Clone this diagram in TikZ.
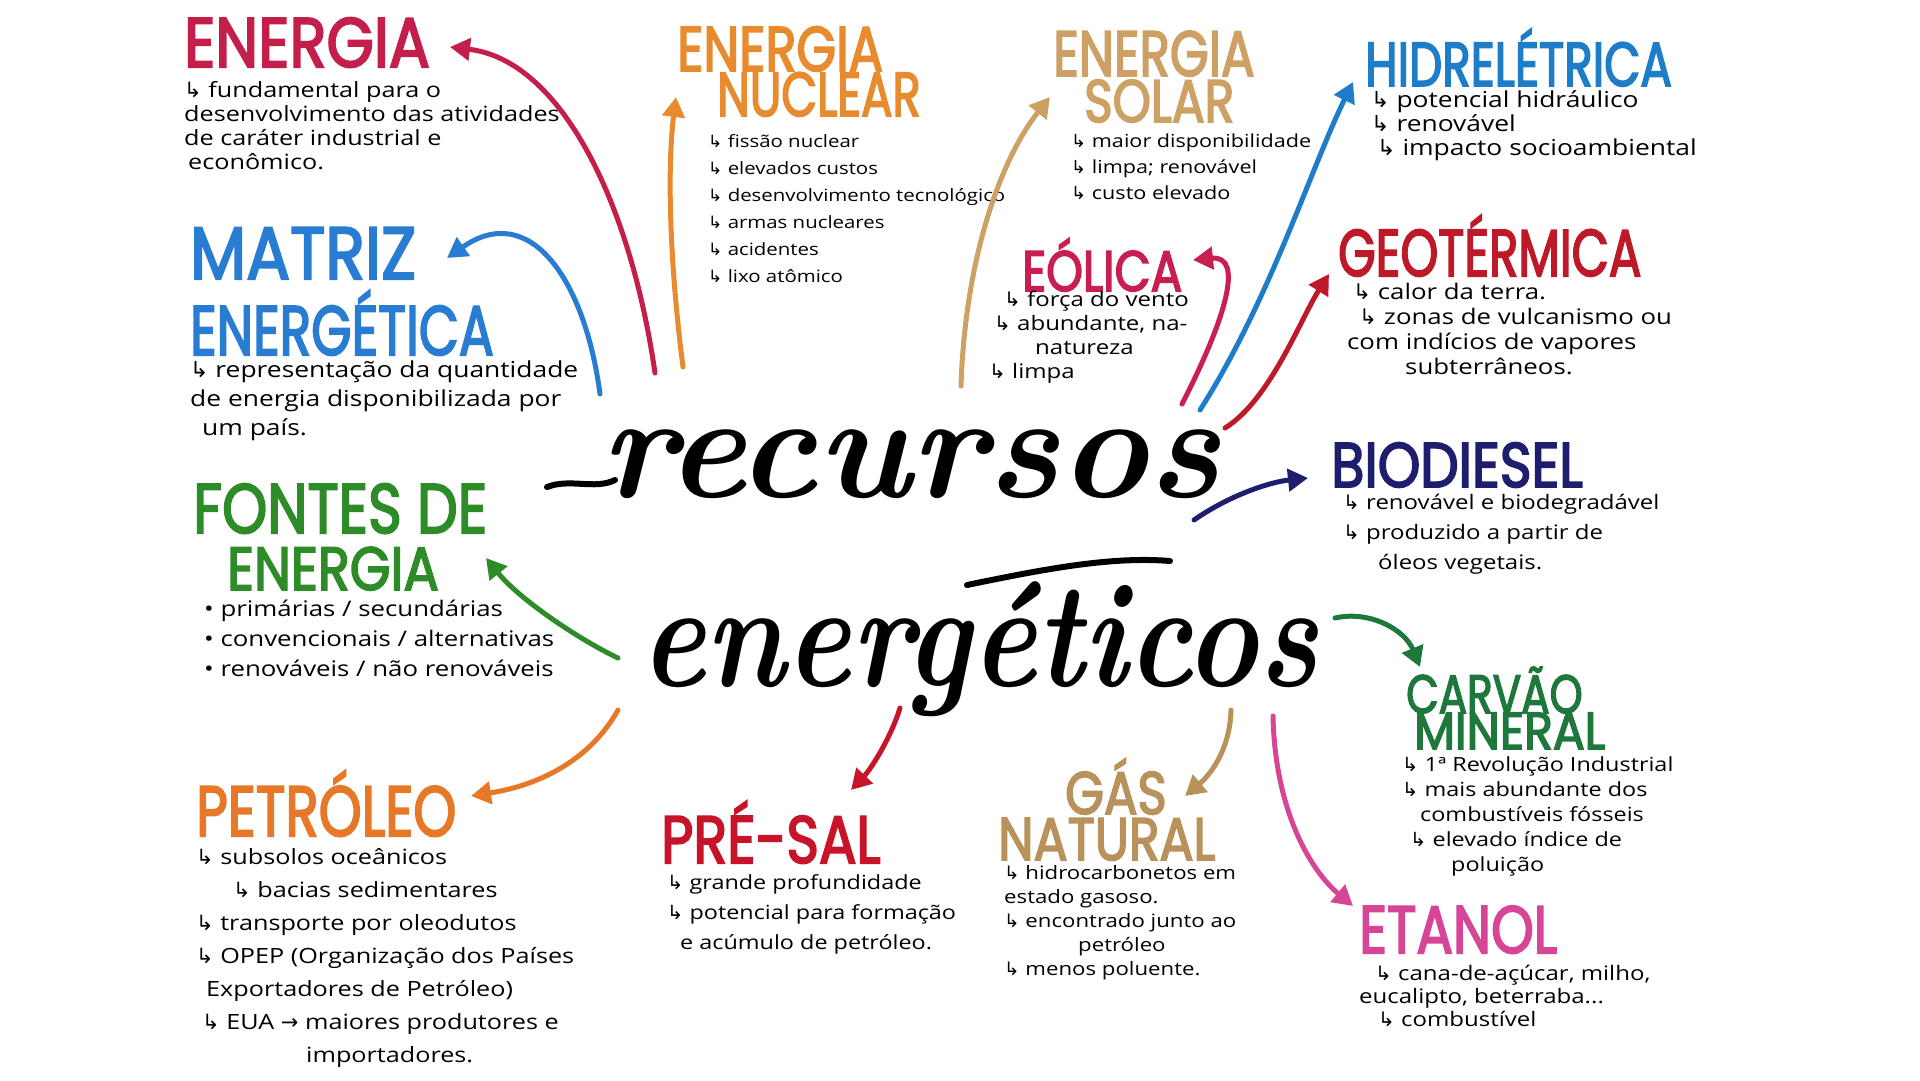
\documentclass[tikz,border=0pt]{standalone}
\usepackage{graphicx}
\usepackage{fontspec}
\usetikzlibrary{arrows.meta}
\newfontfamily\headfont{Poppins}[FakeBold=3]
\newfontfamily\bodyfont{Open Sans}[FakeStretch=1.2]
\newfontfamily\symfont{DejaVu Sans}
\definecolor{energiaRed}{RGB}{196,30,74}
\definecolor{nuclearOrange}{RGB}{232,138,46}
\definecolor{solarTan}{RGB}{205,160,100}
\definecolor{hidroBlue}{RGB}{30,125,200}
\definecolor{matrizBlue}{RGB}{40,125,210}
\definecolor{eolicaRed}{RGB}{200,30,80}
\definecolor{geoRed}{RGB}{190,25,40}
\definecolor{fontesGreen}{RGB}{45,140,40}
\definecolor{biodieselNavy}{RGB}{30,30,110}
\definecolor{petroleoOrange}{RGB}{230,120,40}
\definecolor{presalRed}{RGB}{200,20,40}
\definecolor{gasTan}{RGB}{185,145,90}
\definecolor{carvaoGreen}{RGB}{30,120,60}
\definecolor{etanolPink}{RGB}{215,70,150}
\newcommand{\hd}[3][0.75]{\fontsize{#2}{#2}\selectfont\scalebox{#1}[1]{#3}}
\newcommand{\sub}{{\symfont ↳} }
\tikzset{
  head/.style={font=\headfont, text=#1, anchor=base west, inner sep=0, text depth=0pt},
  body/.style 2 args={font=\bodyfont\fontsize{#1}{#2}\selectfont, align=left, anchor=north west, inner sep=0},
  body/.default={19}{24},
  arr/.style={draw=#1, line width=5pt, line cap=round, -{Triangle[length=20pt,width=22pt]}}
}
\begin{document}
\begin{tikzpicture}[x=1pt,y=-1pt]
    \providecommand{\titlefont}{\rmfamily\bfseries\itshape\fontsize{150}{150}\selectfont}
    \fill[white] (0,0) rectangle (1920,1080);
    \useasboundingbox (0,0) rectangle (1920,1080);
    % title
    \node[anchor=base west, inner sep=0, text depth=0pt] (recursos) at (600,497) {\titlefont recursos};
    \node[anchor=base west, inner sep=0, text depth=0pt] (energeticos) at (640,686) {\titlefont\scalebox{0.82}[1]{energéticos}};
    \draw[line width=6pt, line cap=round] (547,487) .. controls (570,478) and (595,490) .. (615,480);
    \draw[line width=6pt, line cap=round] (967,585) .. controls (1040,570) and (1110,556) .. (1170,561);
    % headings
    \node[head=energiaRed] (energia) at (184,67) {\hd[0.87]{70}{ENERGIA}};
    \node[head=nuclearOrange] (nuclearA) at (677,71) {\hd[0.81]{63}{ENERGIA}};
    \node[head=nuclearOrange] (nuclearB) at (717,116) {\hd[0.75]{62}{NUCLEAR}};
    \node[head=solarTan] (solarA) at (1053,76) {\hd[0.78]{64}{ENERGIA}};
    \node[head=solarTan] (solarB) at (1084,122) {\hd[0.81]{60}{SOLAR}};
    \node[head=hidroBlue] (hidro) at (1365,86) {\hd[0.755]{62}{HIDRELÉTRICA}};
    \node[head=matrizBlue] (matrizA) at (190,279) {\hd[0.88]{74}{MATRIZ}};
    \node[head=matrizBlue] (matrizB) at (190,355) {\hd[0.74]{70}{ENERGÉTICA}};
    \node[head=eolicaRed] (eolica) at (1022,291) {\hd[0.82]{57}{EÓLICA}};
    \node[head=geoRed] (geo) at (1338,276) {\hd[0.73]{66}{GEOTÉRMICA}};
    \node[head=fontesGreen] (fontesA) at (193,533) {\hd[0.82]{70}{FONTES DE}};
    \node[head=fontesGreen] (fontesB) at (227,590) {\hd[0.86]{61}{ENERGIA}};
    \node[head=biodieselNavy] (biodiesel) at (1331,487) {\hd[0.86]{63}{BIODIESEL}};
    \node[head=petroleoOrange] (petroleo) at (196,836) {\hd[0.77]{71}{PETRÓLEO}};
    \node[head=presalRed] (presal) at (661,863) {\hd[0.83]{67}{PRÉ-SAL}};
    \node[head=gasTan] (gasA) at (1065,814) {\hd[0.83]{60}{GÁS}};
    \node[head=gasTan] (gasB) at (998,860) {\hd[0.84]{60}{NATURAL}};
    \node[head=carvaoGreen] (carvaoA) at (1406,713) {\hd[0.78]{54}{CARVÃO}};
    \node[head=carvaoGreen] (carvaoB) at (1414,749) {\hd[0.91]{52}{MINERAL}};
    \node[head=etanolPink] (etanol) at (1359,953) {\hd[0.81]{67}{ETANOL}};
    % notes
    \node[body={21}{24}] (energiaTxt) at (184,81) {\sub fundamental para o\\desenvolvimento das atividades\\de caráter industrial e\\\hspace{4pt}econômico.};
    \node[body={17}{27}] (nuclearTxt) at (708,134) {\sub fissão nuclear\\\sub elevados custos\\\sub desenvolvimento tecnológico\\\sub armas nucleares\\\sub acidentes\\\sub lixo atômico};
    \node[body={18}{26}] (solarTxt) at (1071,134) {\sub maior disponibilidade\\\sub limpa; renovável\\\sub custo elevado};
    \node[body={22}{24}] (hidroTxt) at (1371,90) {\sub potencial hidráulico\\\sub renovável\\\hspace{6pt}\sub impacto socioambiental};
    \node[body={22}{29}] (matrizTxt) at (190,361) {\sub representação da quantidade\\de energia disponibilizada por\\\hspace{12pt}um país.};
    \node[body={20}{24}] (eolicaTxt) at (989,291) {\hspace{15pt}\sub força do vento\\\hspace{5pt}\sub abundante, na-\\\hspace{46pt}natureza\\\sub limpa};
    \node[body={21.5}{25}] (geoTxt) at (1347,283) {\hspace{6pt}\sub calor da terra.\\\hspace{12pt}\sub zonas de vulcanismo ou\\com indícios de vapores\\\hspace{58pt}subterrâneos.};
    \node[body={21.5}{30}] (fontesTxt) at (204,600) {• primárias / secundárias\\• convencionais / alternativas\\• renováveis / não renováveis};
    \node[body={20}{30}] (biodieselTxt) at (1343,494) {\sub renovável e biodegradável\\\sub produzido a partir de\\\hspace{35pt}óleos vegetais.};
    \node[body={21}{33}] (petroleoTxt) at (196,848) {\sub subsolos oceânicos\\\hspace{37pt}\sub bacias sedimentares\\\sub transporte por oleodutos\\\sub OPEP (Organização dos Países\\\hspace{10pt}Exportadores de Petróleo)\\\hspace{6pt}\sub EUA {\symfont →} maiores produtores e\\\hspace{110pt}importadores.};
    \node[body={19.5}{30}] (presalTxt) at (667,874) {\sub grande profundidade\\\sub potencial para formação\\\hspace{13pt}e acúmulo de petróleo.};
    \node[body={18.5}{24}] (gasTxt) at (1004,865) {\sub hidrocarbonetos em\\estado gasoso.\\\sub encontrado junto ao\\\hspace{74pt}petróleo\\\sub menos poluente.};
    \node[body={19.5}{25}] (carvaoTxt) at (1402,756) {\sub 1ª Revolução Industrial\\\sub mais abundante dos\\\hspace{18pt}combustíveis fósseis\\\hspace{8pt}\sub elevado índice de\\\hspace{49pt}poluição};
    \node[body={20}{23}] (etanolTxt) at (1359,965) {\hspace{16pt}\sub cana-de-açúcar, milho,\\eucalipto, beterraba...\\\hspace{19pt}\sub combustível};
    % arrow ends
    \coordinate (fromEnergia) at (655,373);
    \coordinate (fromNuclear) at (683,367);
    \coordinate (fromSolar) at (961,386);
    \coordinate (fromHidro) at (1200,410);
    \coordinate (fromMatriz) at (600,394);
    \coordinate (fromEolica) at (1182,404);
    \coordinate (fromGeo) at (1225,428);
    \coordinate (fromFontes) at (618,658);
    \coordinate (fromPetroleo) at (618,710);
    \coordinate (fromPresal) at (900,708);
    \coordinate (fromGas) at (1231,710);
    \coordinate (fromBiodiesel) at (1194,520);
    \coordinate (fromCarvao) at (1335,618);
    \coordinate (fromEtanol) at (1273,716);
    \coordinate (toEnergia) at (450,47);
    \coordinate (toNuclear) at (676,97);
    \coordinate (toSolar) at (1050,97);
    \coordinate (toHidro) at (1353,82);
    \coordinate (toMatriz) at (447,258);
    \coordinate (toEolica) at (1193,260);
    \coordinate (toGeo) at (1329,274);
    \coordinate (toFontes) at (486,558);
    \coordinate (toPetroleo) at (471,796);
    \coordinate (toPresal) at (851,790);
    \coordinate (toGas) at (1185,796);
    \coordinate (toBiodiesel) at (1308,478);
    \coordinate (toCarvao) at (1420,667);
    \coordinate (toEtanol) at (1353,906);
    % arrows
    \draw[arr=energiaRed] (fromEnergia) .. controls (630,200) and (560,60) .. (toEnergia);
    \draw[arr=nuclearOrange] (fromNuclear) .. controls (668,250) and (668,160) .. (toNuclear);
    \draw[arr=solarTan] (fromSolar) .. controls (965,260) and (1000,160) .. (toSolar);
    \draw[arr=hidroBlue] (fromHidro) .. controls (1270,300) and (1310,170) .. (toHidro);
    \draw[arr=matrizBlue] (fromMatriz) .. controls (585,280) and (530,200) .. (toMatriz);
    \draw[arr=eolicaRed] (fromEolica) .. controls (1225,320) and (1245,255) .. (toEolica);
    \draw[arr=geoRed] (fromGeo) .. controls (1270,400) and (1300,320) .. (toGeo);
    \draw[arr=fontesGreen] (fromFontes) .. controls (580,640) and (520,600) .. (toFontes);
    \draw[arr=petroleoOrange] (fromPetroleo) .. controls (590,760) and (540,785) .. (toPetroleo);
    \draw[arr=presalRed] (fromPresal) .. controls (890,740) and (870,770) .. (toPresal);
    \draw[arr=gasTan] (fromGas) .. controls (1230,750) and (1210,775) .. (toGas);
    \draw[arr=biodieselNavy] (fromBiodiesel) .. controls (1230,495) and (1270,482) .. (toBiodiesel);
    \draw[arr=carvaoGreen] (fromCarvao) .. controls (1370,610) and (1405,630) .. (toCarvao);
    \draw[arr=etanolPink] (fromEtanol) .. controls (1275,810) and (1310,870) .. (toEtanol);
\end{tikzpicture}
\end{document}
